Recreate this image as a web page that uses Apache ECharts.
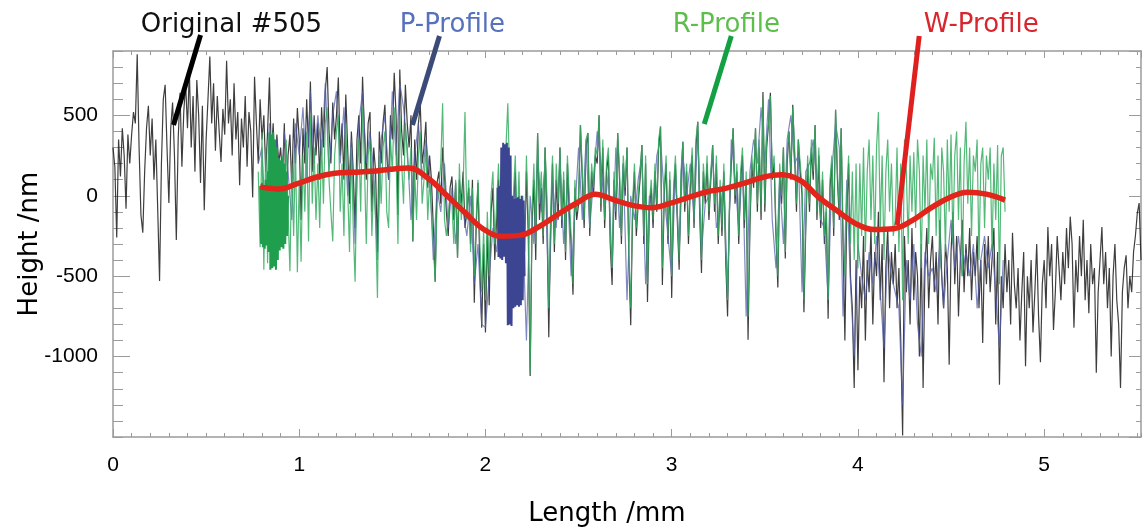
<!DOCTYPE html>
<html>
<head>
<meta charset="utf-8">
<title>Profile #505</title>
<script src="https://cdn.jsdelivr.net/npm/echarts@6/dist/echarts.min.js"></script>
<style>
  html, body { margin: 0; padding: 0; background: #fff; }
  #chart { width: 1144px; height: 532px; }
</style>
</head>
<body>
<div id="chart"></div>
<script>
// Sampling of the measured traces (mm)
const STEP = 0.01;
const origStart = 0.0;
const profStart = 0.78;
const pStep = 0.02;

// Original surface trace #505, heights in nm, one row per 0.1 mm
const origH = [
  300, 180, -260, 350, 120, 420, 250, -80, 380, 200,
  380, 520, 450, 880, 300, -120, -230, 150, 420, 560,
  250, 480, 100, 350, -80, -530, 200, 600, 690, 300,
  -45, 420, 580, 250, -275, 350, 640, 180, 520, 700,
  420, 780, 300, 620, 150, 720, 500, 80, 560, -90,
  350, 600, 865, 450, 700, 280, 620, 400, 210, 540,
  380, 840, 450, 600, 250, 700, 350, 520, 65, 480,
  300, 620, 180, 520, 400, -10, 740, 450, 200, 600,
  350, 500, 150, 400, 735, 250, 450, 100, 380, 200,
  300, 120, 450, -100, 250, 380, 50, 480, 200, 545,
  350, -150, 420, 200, 600, 300, 710, 150, 500, 250,
  450, 100, 550, 300, 650, 800, 400, 200, 580, 350,
  500, 735, 250, 450, 100, 630, 300, -50, 400, 150,
  -200, 350, 500, 200, 740, 400, 100, 450, 520, -100,
  300, 150, -350, 400, 200, 450, 565, 250, 100, 500,
  350, 765, 500, -120, 785, 400, 250, 690, 450, 300,
  500, -285, 350, 100, 450, 565, 200, 300, 460, 50,
  250, 100, -200, -535, 80, 150, -50, 300, 120, -100,
  -250, 50, 120, -150, 80, -385, 100, -50, 150, -200,
  -100, 50, -300, 100, -665, -200, 80, -450, -820, -300,
  -850, -200, -680, -100, 50, -400, -150, 100, -300, 0,
  -200, 100, -350, 50, -500, -100, 150, -300, 0, -450,
  -100, -350, 150, -250, -1120, -200, 100, -400, 390, -150,
  50, -300, 300, -100, -880, -200, 200, -350, 100, -150,
  300, -200, 100, -400, 200, -100, -300, -615, 50, -150,
  -50, 440, 100, -200, 300, 390, -250, 150, 0, 250,
  200, 500, -100, 300, -200, 150, 250, -300, -555, 100,
  -150, 390, 100, -300, 200, 0, 300, -400, -805, -100,
  150, -250, -50, 100, 315, -300, 200, -660, -100, 50,
  -200, 150, -100, 300, 430, -555, 0, 200, -300, 100,
  -635, 0, 200, -150, -460, 100, 335, -100, 150, -300,
  50, 250, -200, 300, 460, -100, -480, 150, -50, 200,
  -150, 100, 315, -100, 200, -300, 50, -250, 150, -400,
  -750, -100, 200, 420, -50, 150, -300, 100, 250, -200,
  100, -895, -200, 200, 50, 420, -100, 300, -150, 645,
  -100, 300, 450, 640, 100, 200, -250, -570, 150, -50,
  300, -390, 200, 400, 100, 565, 250, -100, 350, 150,
  0, -725, -200, 200, -100, 300, 100, 440, -150, 250,
  -200, 100, -300, -100, -765, 50, 200, -250, 535, 100,
  -150, 420, -300, -900, -100, 200, -500, -700, -1195, -400,
  -1085, -500, -700, -250, -900, -400, -600, -200, -800, -350,
  -500, -100, -650, -300, -1160, -450, -200, -700, -350, -550,
  -300, -700, -450, -900, -1490, -250, -600, -400, -800, -200,
  -650, -350, -500, -1000, -300, -1195, -450, -200, -700, -400,
  -250, -600, -350, -800, -150, -500, -700, -300, -450, -1050,
  -350, -100, -550, -250, -750, -400, -150, -600, -300, -500,
  -200, -650, -350, -500, -250, -700, -400, -915, -300, -550,
  -250, -600, -400, -200, -800, -350, -1175, -500, -700, -300,
  -600, -400, -800, -230, -550, -700, -450, -900, -600, -350,
  -1060, -500, -700, -400, -850, -600, -300, -750, -1035, -550,
  -400, -700, -195, -500, -300, -835, -600, -250, -450, -650,
  -350, -550, -200, -450, -130, -300, -820, -400, -600, -250,
  -500, -150, -650, -400, -730, -300, -550, -450, -1100, -600,
  -400, -195, -550, -350, -700, -450, -1000, -500, -300, -650,
  -800, -1195, -600, -450, -370, -700, -500, -600, -350, -250,
  -110, -45, -400
];

// P-profile (primary profile), 0.78 .. 4.78 mm every 0.02 mm
const pH = [
  200,
  300, -200, 450, 100, 350,
  -100, 400, 150, -150, 450,
  250, 550, 100, 650, 200,
  500, 250, 700, 150, 500,
  650, 200, 550, 0, 350,
  -300, 450, 650, 200, 400,
  150, -400, 350, 500, 100,
  650, 250, 700, 550, 300,
  -150, 250, 450, 100, 350,
  150, -400, 50, -100, 200,
  -200, 50, -300, 0, -100,
  -250, 0, -550, -300, -800,
  -820, -500, -200, -350, -100,
  -300, 200, -600, 100, -500,
  -200, -900, 0, -300, 250,
  -100, 200, -700, 100, -200,
  200, -300, 100, -500, -100,
  300, -150, 350, -200, 100,
  400, 200, -100, 150, -450,
  300, -200, 200, -650, 0,
  -150, 100, 250, -550, 0,
  -100, 250, 350, 0, -250,
  -500, 150, -350, 250, 0,
  200, -150, 400, -350, -50,
  0, 250, -200, -100, 100,
  -600, 350, 100, -200, 200,
  -750, 150, 350, 200, 550,
  200, 600, -150, -450, 100,
  -300, 350, 500, 200, 250,
  -600, 150, 200, 350, 100,
  -150, -200, -650, 150, 450,
  300, -750, 100, -550, -1000,
  -300, -500, -650, -350, -550,
  -250, -600, -950, -300, -500,
  -600, -700, -1300, -400, -650,
  -300, -800, -1000, -350, -500,
  -450, -600, -300, -700, -400,
  -150, -450, -250, -500, -350,
  -500, -300, -700, -400, -250,
  -450, -300, -600, -950, -400
];

// R-profile (roughness), 0.78 .. 4.79 mm every 0.01 mm
const rH = [
  150, -320,
  395, -460, 300, -420, 250, -350, -50, 300, -250, 100,
  -300, 250, -150, 350, -100, -470, 200, -250, 300, -475,
  100, -410, 250, -100, 400, -285, 500, -50, 300, -150,
  200, -200, 350, -50, 450, 550, 100, -100, -285, 250,
  400, 500, -100, 200, -250, 450, 50, -350, 300, -200,
  -535, 150, 350, -100, 550, 200, -300, 250, 350, -250,
  100, -150, -635, 250, -50, 300, 400, -100, -200, 350,
  150, 550, 250, -300, 500, 200, -50, 450, 250, 100,
  300, -285, 150, -150, 250, 400, -50, 100, 300, -150,
  100, -100, -300, -535, -50, 50, 200, 575, -150, -250,
  -250, 0, -50, -300, 100, -385, 200, -150, 50, 520,
  -150, 100, -350, 50, -500, -150, 100, -300, -600, -200,
  -650, -100, -500, 0, 150, -300, -50, 200, -200, 100,
  -100, 300, 575, 100, -300, 0, 250, -200, 150, -350,
  0, -250, 250, -150, -1100, -100, 200, -300, 390, -50,
  150, -250, 300, 0, -700, -100, 250, -300, 200, -50,
  300, -150, 150, -350, 250, 0, -250, -550, 100, -100,
  0, 440, 150, -150, 350, 390, -200, 200, 50, 300,
  250, 500, -50, 350, -150, 200, 300, -250, -450, 150,
  -100, 390, 150, -250, 250, 50, 300, -350, -700, -50,
  200, -200, 0, 150, 315, -250, 250, -550, -50, 100,
  -150, 200, -50, 350, 430, -450, 50, 250, -250, 150,
  -500, 50, 250, -100, -400, 150, 335, -50, 200, -250,
  100, 300, -150, 350, 460, -50, -400, 200, 0, 250,
  -100, 150, 315, -50, 250, -250, 100, -200, 200, -350,
  -650, -50, 250, 420, 0, 200, -250, 150, 300, -150,
  150, -750, -150, 250, 100, 420, -50, 350, -100, 600,
  -50, 350, 450, 620, 150, 250, -200, -500, 200, 0,
  300, -350, 250, 400, 150, 550, 300, -50, 350, 200,
  50, -650, -150, 250, -50, 350, 150, 440, -100, 300,
  -150, 150, -250, -50, -650, 100, 250, -200, 535, 150,
  -100, 420, -200, -500, 0, 250, -300, 150, -400, 200,
  -450, 200, -250, 300, -350, 150, 350, -150, 250, -300,
  300, 520, -200, 250, -400, 150, 350, -100, 200, -250,
  -150, 300, -350, 200, -650, 350, 150, -300, 250, -100,
  270, -200, 350, 150, -450, 250, -100, 350, -300, 200,
  100, 360, -250, 250, -450, 300, 150, -350, 350, -100,
  380, -300, 250, 400, -150, 300, -500, 200, 460, -50,
  300, -250, 250, 150, 350, -400, 200, 300, -200, 250,
  100, 300, -350, 200, -150, 315, -550, 250, 300, -100
];

// Filter run-in segments, sampled every 0.005 mm
const edgeStep = 0.005;
const rEdgeStart = 0.79;
const rEdgeH = [
  60, -300, 80, -320, 50, -330, 100, -310, 150, -350,
  395, -460, 380, -450, 395, -440, 350, -460, 300, -400,
  235, -340, 220, -320, 235, -330, 200, -300, 150, -250,
  0
];
const pEdgeStart = 2.065;
const pEdgeH = [
  50, -380, 60, -390, 300, -400, 330, -380, 320, -420,
  330, -805, 300, -800, 250, -810, 0, -700, -20, -690,
  -15, -680, -10, -690, -20, -680, 0, -650, -30, -500
];

// W-profile (waviness), every 0.1 mm from 0.79 mm
const wStart = 0.79;
const wStep = 0.1;
const wH = [55, 42, 75, 115, 140, 146, 152, 165, 172, 110,
  5, -105, -208, -252, -245, -190, -115, -45, 10, -25,
  -60, -75, -48, -10, 25, 46, 78, 115, 130, 95,
  -10, -95, -175, -210, -205, -155, -77, -12, 22, 10,
  -27];

// Callout labels: text, text anchor and pointer line (mm, nm)
const callouts = [
  { text: 'Original #505', color: '#111111', lineColor: '#000000', at: [0.636, 1062], from: [0.47, 1000], to: [0.325, 440] },
  { text: 'P-Profile', color: '#5672bd', lineColor: '#3c4a78', at: [1.822, 1062], from: [1.753, 993], to: [1.608, 440] },
  { text: 'R-Profile', color: '#5cbf4c', lineColor: '#13a043', at: [3.293, 1062], from: [3.32, 993], to: [3.175, 446] },
  { text: 'W-Profile', color: '#d9252e', lineColor: '#e01f1f', at: [4.662, 1062], from: [4.329, 993], to: [4.211, -182] }
];

const xMax = 5.52;
const yMin = -1500, yMax = 900;

function toPairs(start, step, arr) {
  return arr.map((v, i) => [+(start + i * step).toFixed(4), v]);
}

const axisGray = '#9b9b9b';
const labelFont = 'Liberation Sans, Arial, sans-serif';
const titleFont = 'DejaVu Sans, sans-serif';

function xAxisDef(pos, interval, tickLen, withLabels, withLine) {
  return {
    type: 'value', position: pos, min: 0, max: xMax, interval: interval,
    axisLine: { show: withLine, onZero: false, lineStyle: { color: axisGray, width: 1.5 } },
    axisTick: { show: true, inside: true, length: tickLen, lineStyle: { color: axisGray, width: 1 } },
    axisLabel: withLabels ? { show: true, margin: 18, fontSize: 21, color: '#000', fontFamily: labelFont, showMaxLabel: false } : { show: false },
    splitLine: { show: false }
  };
}
function yAxisDef(pos, interval, tickLen, withLabels, withLine) {
  return {
    type: 'value', position: pos, min: yMin, max: yMax, interval: interval,
    axisLine: { show: withLine, onZero: false, lineStyle: { color: axisGray, width: 1.5 } },
    axisTick: { show: true, inside: true, length: tickLen, lineStyle: { color: axisGray, width: 1 } },
    axisLabel: withLabels ? { show: true, margin: 15, fontSize: 21, color: '#000', fontFamily: labelFont,
      showMinLabel: false, showMaxLabel: false, formatter: v => String(v) } : { show: false },
    splitLine: { show: false }
  };
}

const xAxes = [
  xAxisDef('bottom', 1, 8, true, true),
  xAxisDef('bottom', 0.1, 4, false, false),
  xAxisDef('top', 1, 7, false, true),
  xAxisDef('top', 0.1, 4, false, false)
];
Object.assign(xAxes[0], {
  name: 'Length /mm', nameLocation: 'middle', nameGap: 64,
  nameTextStyle: { fontSize: 26, color: '#000', fontFamily: titleFont, padding: [0, 40, 0, 0] }
});
const yAxes = [
  yAxisDef('left', 500, 17, true, true),
  yAxisDef('left', 100, 10, false, false),
  yAxisDef('right', 500, 12, false, true),
  yAxisDef('right', 100, 5, false, false)
];
Object.assign(yAxes[0], {
  name: 'Height /nm', nameLocation: 'middle', nameGap: 70, nameRotate: 90, nameMoveOverlap: false,
  nameTextStyle: { fontSize: 26, color: '#000', fontFamily: titleFont }
});

function lineSeries(name, data, color, width, opacity, z, smooth) {
  return {
    name: name, type: 'line', data: data, xAxisIndex: 0, yAxisIndex: 0,
    showSymbol: false, symbol: 'none', smooth: smooth || false,
    lineStyle: { color: color, width: width, opacity: opacity },
    z: z, silent: true, animation: false
  };
}

const chart = echarts.init(document.getElementById('chart'), null, { renderer: 'canvas' });
chart.setOption({
  backgroundColor: '#ffffff',
  animation: false,
  grid: { left: 113, right: 3, top: 51, bottom: 95 },
  xAxis: xAxes,
  yAxis: yAxes,
  series: [
    lineSeries('Original #505', toPairs(origStart, STEP, origH), '#1c1c1c', 1.2, 0.85, 2),
    lineSeries('P-Profile', toPairs(profStart, pStep, pH), '#5560ae', 1.2, 0.75, 3),
    lineSeries('R-Profile', toPairs(profStart, STEP, rH), '#34ad60', 1.2, 0.85, 4),
    lineSeries('R-Profile run-in', toPairs(rEdgeStart, edgeStep, rEdgeH), '#1f9e4e', 2, 1, 5),
    lineSeries('P-Profile run-in', toPairs(pEdgeStart, edgeStep, pEdgeH), '#3c4592', 2, 1, 5),
    lineSeries('W-Profile', toPairs(wStart, wStep, wH), '#e3241b', 5.5, 1, 8, 0.4)
  ]
});

// Callout texts and pointer lines placed through the axis scales
const px = p => chart.convertToPixel({ xAxisIndex: 0, yAxisIndex: 0 }, p);
const graphics = [];
callouts.forEach(c => {
  const a = px(c.from), b = px(c.to), t = px(c.at);
  graphics.push({
    type: 'line', z: 20, silent: true,
    shape: { x1: a[0], y1: a[1], x2: b[0], y2: b[1] },
    style: { stroke: c.lineColor, lineWidth: 5, lineCap: 'butt' }
  });
  graphics.push({
    type: 'text', z: 21, silent: true, x: t[0], y: t[1],
    style: { text: c.text, fill: c.color, font: '26px "DejaVu Sans", sans-serif', align: 'center', verticalAlign: 'middle' }
  });
});
chart.setOption({ graphic: graphics });
</script>
</body>
</html>
